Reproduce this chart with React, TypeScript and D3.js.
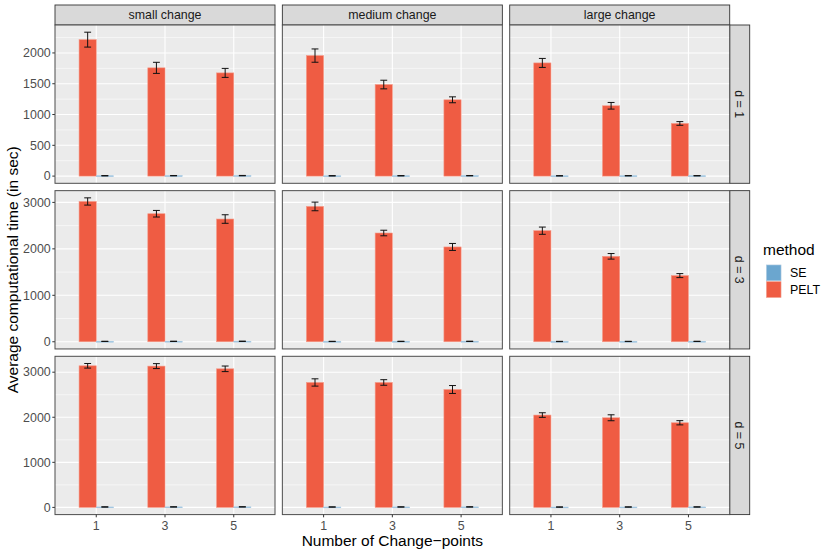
import React, { useEffect, useRef } from 'react'
import * as d3 from 'd3'

// facets
const changeLevels = ['small change', 'medium change', 'large change']
const dimLabels = ['d = 1', 'd = 3', 'd = 5']
const cpLabels = ['1', '3', '5']
const methods = ['SE', 'PELT']
const methodColors = ['#6BA6CF', '#EF5C43']
const methodEdges = ['#A8CAE3', '#F59A89']

// PELT mean time per row (d) -> [small, medium, large] -> cp 1,3,5
const peltMeanD1 = [[2216, 1758, 1676], [1957, 1487, 1239], [1838, 1142, 855]]
const peltMeanD3 = [[3020, 2756, 2642], [2913, 2341, 2041], [2391, 1839, 1424]]
const peltMeanD5 = [[3142, 3135, 3075], [2772, 2772, 2616], [2049, 1989, 1878]]
// PELT error half-width
const peltErrD1 = [[121, 90, 73], [108, 70, 48], [73, 54, 30]]
const peltErrD3 = [[78, 71, 92], [93, 60, 75], [78, 60, 43]]
const peltErrD5 = [[51, 55, 62], [81, 62, 88], [51, 66, 47]]
// SE mean time (tiny)
const seMeanD1 = [[6, 7, 8], [5, 6, 7], [5, 6, 6]]
const seMeanD3 = [[8, 9, 10], [7, 8, 9], [6, 7, 8]]
const seMeanD5 = [[10, 11, 12], [9, 10, 11], [8, 9, 10]]
const seErr = 3

const yTickStep = [500, 1000, 1000]

const peltMeans = [peltMeanD1, peltMeanD3, peltMeanD5]
const peltErrs = [peltErrD1, peltErrD3, peltErrD5]
const seMeans = [seMeanD1, seMeanD3, seMeanD5]

const FONT = '"Liberation Sans", Arial, Helvetica, sans-serif'
const SMALL = '12.4px'
const BIG = '15.5px'

export default function App() {
  const svgRef = useRef<SVGSVGElement>(null)

  useEffect(() => {
    if (!svgRef.current) return
    const svg = d3.select(svgRef.current)
    svg.selectAll('*').remove()

    const left = 55
    const top = 25
    const panelW = 220
    const panelH = 158.3
    const gap = 7.35
    const stripH = 20
    const stripW = 20

    const x = d3.scaleLinear().domain([0.4, 3.6]).range([0, panelW])
    const barW = 0.25
    const capW = 0.1

    const colX = (c: number) => left + c * (panelW + gap)
    const rowY = (r: number) => top + r * (panelH + gap)

    // top strips
    changeLevels.forEach((lab, c) => {
      svg.append('rect')
        .attr('x', colX(c)).attr('y', top - stripH)
        .attr('width', panelW).attr('height', stripH)
        .attr('fill', '#D9D9D9').attr('stroke', '#333').attr('stroke-width', 0.9)
      svg.append('text')
        .attr('x', colX(c) + panelW / 2).attr('y', top - stripH / 2 + 4.4)
        .attr('text-anchor', 'middle').attr('font-size', SMALL)
        .attr('fill', '#1A1A1A').attr('font-family', FONT)
        .text(lab)
    })

    dimLabels.forEach((dlab, r) => {
      const y0 = rowY(r)
      const lo = d3.min(seMeans[r].flat()) as number - seErr
      const hi = d3.max(peltMeans[r].flatMap((row, i) => row.map((m, j) => m + peltErrs[r][i][j]))) as number
      const lo0 = Math.min(0, lo)
      const pad = (hi - lo0) * 0.05
      const y = d3.scaleLinear().domain([lo0 - pad, hi + pad]).range([y0 + panelH, y0])
      const step = yTickStep[r]
      const major = d3.range(0, hi + pad, step)
      const minor = d3.range(step / 2, hi + pad, step)

      // right strip
      svg.append('rect')
        .attr('x', colX(2) + panelW).attr('y', y0)
        .attr('width', stripW).attr('height', panelH)
        .attr('fill', '#D9D9D9').attr('stroke', '#333').attr('stroke-width', 0.9)
      svg.append('text')
        .attr('transform', `translate(${colX(2) + panelW + stripW / 2 - 4.4},${y0 + panelH / 2}) rotate(90)`)
        .attr('text-anchor', 'middle').attr('font-size', SMALL)
        .attr('fill', '#1A1A1A').attr('font-family', FONT)
        .text(dlab)

      // y axis labels on first column
      major.forEach(v => {
        svg.append('line')
          .attr('x1', left - 2.7).attr('x2', left)
          .attr('y1', y(v)).attr('y2', y(v))
          .attr('stroke', '#333').attr('stroke-width', 1)
        svg.append('text')
          .attr('x', left - 4.3).attr('y', y(v) + 4.3)
          .attr('text-anchor', 'end').attr('font-size', SMALL)
          .attr('fill', '#4D4D4D').attr('font-family', FONT)
          .text(String(v))
      })

      changeLevels.forEach((_, c) => {
        const g = svg.append('g').attr('transform', `translate(${colX(c)},0)`)
        g.append('rect')
          .attr('x', 0).attr('y', y0).attr('width', panelW).attr('height', panelH)
          .attr('fill', '#EBEBEB')

        minor.forEach(v => {
          g.append('line').attr('x1', 0).attr('x2', panelW)
            .attr('y1', y(v)).attr('y2', y(v))
            .attr('stroke', '#fff').attr('stroke-width', 0.55)
        })
        major.forEach(v => {
          g.append('line').attr('x1', 0).attr('x2', panelW)
            .attr('y1', y(v)).attr('y2', y(v))
            .attr('stroke', '#fff').attr('stroke-width', 1.1)
        })
        cpLabels.forEach((_, i) => {
          g.append('line').attr('x1', x(i + 1)).attr('x2', x(i + 1))
            .attr('y1', y0).attr('y2', y0 + panelH)
            .attr('stroke', '#fff').attr('stroke-width', 1.1)
        })

        cpLabels.forEach((_, i) => {
          const pos = i + 1
          const pm = peltMeans[r][c][i]
          const pe = peltErrs[r][c][i]
          const sm = seMeans[r][c][i]
          // PELT bar (left of dodge)
          g.append('rect')
            .attr('x', x(pos - barW)).attr('width', x(pos) - x(pos - barW))
            .attr('y', y(pm)).attr('height', y(0) - y(pm))
            .attr('fill', methodColors[1]).attr('stroke', methodEdges[1]).attr('stroke-width', 0.6)
          // SE bar (right of dodge)
          g.append('rect')
            .attr('x', x(pos)).attr('width', x(pos + barW) - x(pos))
            .attr('y', y(sm)).attr('height', Math.max(y(0) - y(sm), 0.8))
            .attr('fill', methodColors[0]).attr('stroke', methodEdges[0]).attr('stroke-width', 0.6)

          const bars = [
            { cx: pos - barW / 2, m: pm, e: pe },
            { cx: pos + barW / 2, m: sm, e: seErr },
          ]
          bars.forEach(b => {
            const eb = g.append('g').attr('stroke', '#111').attr('stroke-width', 1)
            eb.append('line').attr('x1', x(b.cx)).attr('x2', x(b.cx))
              .attr('y1', y(b.m - b.e)).attr('y2', y(b.m + b.e))
            eb.append('line').attr('x1', x(b.cx - capW / 2)).attr('x2', x(b.cx + capW / 2))
              .attr('y1', y(b.m - b.e)).attr('y2', y(b.m - b.e))
            eb.append('line').attr('x1', x(b.cx - capW / 2)).attr('x2', x(b.cx + capW / 2))
              .attr('y1', y(b.m + b.e)).attr('y2', y(b.m + b.e))
          })
        })

        g.append('rect')
          .attr('x', 0).attr('y', y0).attr('width', panelW).attr('height', panelH)
          .attr('fill', 'none').attr('stroke', '#4D4D4D').attr('stroke-width', 1)
      })
    })

    // x axis ticks on bottom row
    const bottom = rowY(2) + panelH
    changeLevels.forEach((_, c) => {
      cpLabels.forEach((lab, i) => {
        const px = colX(c) + x(i + 1)
        svg.append('line')
          .attr('x1', px).attr('x2', px).attr('y1', bottom).attr('y2', bottom + 2.7)
          .attr('stroke', '#333').attr('stroke-width', 1)
        svg.append('text')
          .attr('x', px).attr('y', bottom + 15)
          .attr('text-anchor', 'middle').attr('font-size', SMALL)
          .attr('fill', '#4D4D4D').attr('font-family', FONT)
          .text(lab)
      })
    })

    // axis titles
    svg.append('text')
      .attr('x', left + (colX(2) + panelW - left) / 2).attr('y', 546)
      .attr('text-anchor', 'middle').attr('font-size', BIG)
      .attr('fill', '#000').attr('font-family', FONT)
      .text('Number of Change\u2212points')
    svg.append('text')
      .attr('transform', `translate(17.5,${top + (rowY(2) + panelH - top) / 2}) rotate(-90)`)
      .attr('text-anchor', 'middle').attr('font-size', BIG)
      .attr('fill', '#000').attr('font-family', FONT)
      .text('Average computational time (in sec)')

    // legend
    const lg = svg.append('g').attr('transform', 'translate(763,0)')
    lg.append('text')
      .attr('x', 0).attr('y', 255)
      .attr('font-size', BIG).attr('fill', '#000').attr('font-family', FONT)
      .text('method')
    methods.forEach((m, k) => {
      const ky = 264.5 + k * 16.7
      lg.append('rect')
        .attr('x', 3).attr('y', ky).attr('width', 15.5).attr('height', 16.7)
        .attr('fill', '#F2F2F2')
      lg.append('rect')
        .attr('x', 3.5).attr('y', ky + 0.5).attr('width', 14.5).attr('height', 15.7)
        .attr('fill', methodColors[k]).attr('stroke', methodEdges[k]).attr('stroke-width', 0.6)
      lg.append('text')
        .attr('x', 27).attr('y', ky + 12.7)
        .attr('font-size', SMALL).attr('fill', '#000').attr('font-family', FONT)
        .text(m)
    })
  }, [])

  return (
    <svg
      ref={svgRef}
      width={830}
      height={554}
      style={{ position: 'absolute', left: 0, top: 0, background: '#fff' }}
    />
  )
}
